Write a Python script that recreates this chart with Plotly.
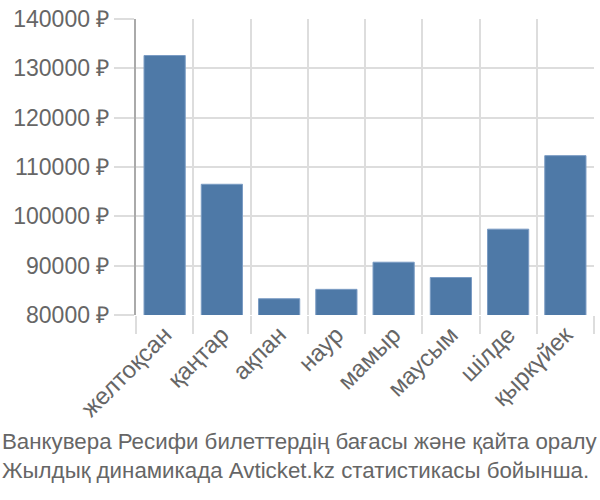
import plotly.graph_objects as go

months = ["желтоқсан", "қаңтар", "ақпан", "наур", "мамыр", "маусым", "шілде", "қыркүйек"]
prices = [132600, 106500, 83300, 85200, 90700, 87600, 97400, 112300]
y_ticks = [80000, 90000, 100000, 110000, 120000, 130000, 140000]
title_lines = ["Ванкувера Ресифи билеттердің бағасы және қайта оралу",
               "Жылдық динамикада Avticket.kz статистикасы бойынша."]

fig = go.Figure(go.Bar(
    x=months, y=prices,
    marker=dict(color="#4e79a7", line=dict(color="#7b9cc4", width=1)),
))

font = "Liberation Sans, Arial, sans-serif"
fig.update_layout(
    width=600, height=500,
    margin=dict(l=136, r=6, t=14, b=185),
    plot_bgcolor="white", paper_bgcolor="white",
    bargap=0.28,
    showlegend=False,
    font=dict(family=font, color="#666666", size=22),
    xaxis=dict(
        type="category", tickson="boundaries",
        showgrid=True, gridcolor="#dddddd", gridwidth=2,
        ticks="outside", ticklen=18, tickcolor="#dddddd", tickwidth=2,
        tickangle=-45, tickfont=dict(size=24, color="#666666"),
        showline=False, zeroline=False,
    ),
    yaxis=dict(
        range=[80000, 140000], tickvals=y_ticks,
        ticktext=[f"{v} ₽" for v in y_ticks],
        showgrid=True, gridcolor="#dddddd", gridwidth=2,
        ticks="outside", ticklen=20, tickcolor="#dddddd", tickwidth=2,
        showline=True, linecolor="#aaaaaa", linewidth=2,
        zeroline=False, tickfont=dict(size=23, color="#666666"),
    ),
    annotations=[dict(
        text="<br>".join(title_lines), xref="paper", yref="paper",
        x=-136/458, y=-(445-315-16)/301, xanchor="left", yanchor="top",
        align="left", showarrow=False,
        font=dict(size=22.3, color="#666666", family=font),
    )],
)

fig.write_html("out.html")
